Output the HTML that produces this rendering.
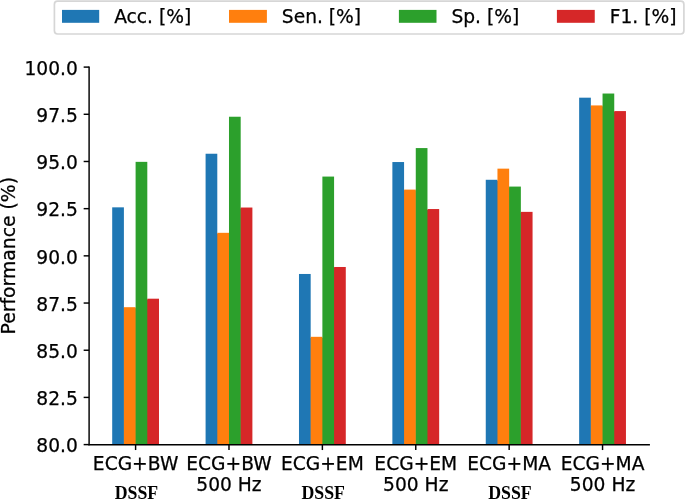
<!DOCTYPE html>
<html><head><meta charset="utf-8"><title>Performance chart</title>
<style>
html,body{margin:0;padding:0;background:#fff;}
body{width:685px;height:500px;overflow:hidden;}
svg{display:block;}
.t{font-family:"DejaVu Sans","Liberation Sans",sans-serif;font-size:18.67px;fill:#000;stroke:#000;stroke-width:0.25px;}
.b{font-family:"Liberation Serif","Times New Roman",serif;font-weight:bold;font-size:17.8px;fill:#000;}
</style></head><body>
<svg width="685" height="500" viewBox="0 0 685 500">
<rect x="0" y="0" width="685" height="500" fill="#fff"/>
<rect x="112.2" y="207.34" width="11.7" height="237.26" fill="#1f77b4"/>
<rect x="123.4" y="308.19" width="1.5" height="136.41" fill="#1f77b4"/>
<rect x="123.9" y="307.19" width="11.7" height="137.41" fill="#ff7f0e"/>
<rect x="135.1" y="308.19" width="1.5" height="136.41" fill="#ff7f0e"/>
<rect x="135.6" y="161.85" width="11.7" height="282.75" fill="#2ca02c"/>
<rect x="146.8" y="299.7" width="1.5" height="144.9" fill="#2ca02c"/>
<rect x="147.3" y="298.7" width="11.7" height="145.9" fill="#d62728"/>
<rect x="205.59" y="153.74" width="11.7" height="290.86" fill="#1f77b4"/>
<rect x="216.79" y="233.82" width="1.5" height="210.78" fill="#1f77b4"/>
<rect x="217.29" y="232.82" width="11.7" height="211.78" fill="#ff7f0e"/>
<rect x="228.49" y="233.82" width="1.5" height="210.78" fill="#ff7f0e"/>
<rect x="228.99" y="116.74" width="11.7" height="327.86" fill="#2ca02c"/>
<rect x="240.19" y="208.53" width="1.5" height="236.07" fill="#2ca02c"/>
<rect x="240.69" y="207.53" width="11.7" height="237.07" fill="#d62728"/>
<rect x="298.98" y="273.97" width="11.7" height="170.63" fill="#1f77b4"/>
<rect x="310.18" y="337.82" width="1.5" height="106.78" fill="#1f77b4"/>
<rect x="310.68" y="336.82" width="11.7" height="107.78" fill="#ff7f0e"/>
<rect x="321.88" y="337.82" width="1.5" height="106.78" fill="#ff7f0e"/>
<rect x="322.38" y="176.57" width="11.7" height="268.03" fill="#2ca02c"/>
<rect x="333.58" y="267.99" width="1.5" height="176.61" fill="#2ca02c"/>
<rect x="334.08" y="266.99" width="11.7" height="177.61" fill="#d62728"/>
<rect x="392.37" y="162.04" width="11.7" height="282.56" fill="#1f77b4"/>
<rect x="403.57" y="190.6" width="1.5" height="254" fill="#1f77b4"/>
<rect x="404.07" y="189.6" width="11.7" height="255" fill="#ff7f0e"/>
<rect x="415.27" y="190.6" width="1.5" height="254" fill="#ff7f0e"/>
<rect x="415.77" y="148.07" width="11.7" height="296.53" fill="#2ca02c"/>
<rect x="426.97" y="210.04" width="1.5" height="234.56" fill="#2ca02c"/>
<rect x="427.47" y="209.04" width="11.7" height="235.56" fill="#d62728"/>
<rect x="485.76" y="179.78" width="11.7" height="264.82" fill="#1f77b4"/>
<rect x="496.96" y="180.78" width="1.5" height="263.82" fill="#1f77b4"/>
<rect x="497.46" y="168.65" width="11.7" height="275.95" fill="#ff7f0e"/>
<rect x="508.66" y="187.58" width="1.5" height="257.02" fill="#ff7f0e"/>
<rect x="509.16" y="186.58" width="11.7" height="258.02" fill="#2ca02c"/>
<rect x="520.36" y="212.87" width="1.5" height="231.73" fill="#2ca02c"/>
<rect x="520.86" y="211.87" width="11.7" height="232.73" fill="#d62728"/>
<rect x="579.15" y="97.68" width="11.7" height="346.92" fill="#1f77b4"/>
<rect x="590.35" y="106.42" width="1.5" height="338.18" fill="#1f77b4"/>
<rect x="590.85" y="105.42" width="11.7" height="339.18" fill="#ff7f0e"/>
<rect x="602.05" y="106.42" width="1.5" height="338.18" fill="#ff7f0e"/>
<rect x="602.55" y="93.53" width="11.7" height="351.07" fill="#2ca02c"/>
<rect x="613.75" y="112.08" width="1.5" height="332.52" fill="#2ca02c"/>
<rect x="614.25" y="111.08" width="11.7" height="333.52" fill="#d62728"/>
<path d="M89.1 67.1V444.6" stroke="#000" stroke-width="1.45" fill="none" stroke-linecap="square"/>
<path d="M89.1 444.75H649.2" stroke="#000" stroke-width="1.45" fill="none" stroke-linecap="square"/>
<path d="M83.66 444.6H89.1" stroke="#000" stroke-width="1.45"/>
<text class="t" x="77.9" y="452.3" text-anchor="end">80.0</text>
<path d="M83.66 397.41H89.1" stroke="#000" stroke-width="1.45"/>
<text class="t" x="77.9" y="405.11" text-anchor="end">82.5</text>
<path d="M83.66 350.23H89.1" stroke="#000" stroke-width="1.45"/>
<text class="t" x="77.9" y="357.93" text-anchor="end">85.0</text>
<path d="M83.66 303.04H89.1" stroke="#000" stroke-width="1.45"/>
<text class="t" x="77.9" y="310.74" text-anchor="end">87.5</text>
<path d="M83.66 255.85H89.1" stroke="#000" stroke-width="1.45"/>
<text class="t" x="77.9" y="263.55" text-anchor="end">90.0</text>
<path d="M83.66 208.66H89.1" stroke="#000" stroke-width="1.45"/>
<text class="t" x="77.9" y="216.36" text-anchor="end">92.5</text>
<path d="M83.66 161.48H89.1" stroke="#000" stroke-width="1.45"/>
<text class="t" x="77.9" y="169.18" text-anchor="end">95.0</text>
<path d="M83.66 114.29H89.1" stroke="#000" stroke-width="1.45"/>
<text class="t" x="77.9" y="121.99" text-anchor="end">97.5</text>
<path d="M83.66 67.1H89.1" stroke="#000" stroke-width="1.45"/>
<text class="t" x="77.9" y="74.8" text-anchor="end">100.0</text>
<path d="M135.6 444.6V450.04" stroke="#000" stroke-width="1.45"/>
<text class="t" x="135.6" y="470.4" text-anchor="middle">ECG+BW</text>
<text class="b" x="136.4" y="499.4" text-anchor="middle">DSSF</text>
<path d="M228.99 444.6V450.04" stroke="#000" stroke-width="1.45"/>
<text class="t" x="228.99" y="470.4" text-anchor="middle">ECG+BW</text>
<text class="t" x="228.99" y="491.1" text-anchor="middle">500 Hz</text>
<path d="M322.38 444.6V450.04" stroke="#000" stroke-width="1.45"/>
<text class="t" x="322.38" y="470.4" text-anchor="middle">ECG+EM</text>
<text class="b" x="323.18" y="499.4" text-anchor="middle">DSSF</text>
<path d="M415.77 444.6V450.04" stroke="#000" stroke-width="1.45"/>
<text class="t" x="415.77" y="470.4" text-anchor="middle">ECG+EM</text>
<text class="t" x="415.77" y="491.1" text-anchor="middle">500 Hz</text>
<path d="M509.16 444.6V450.04" stroke="#000" stroke-width="1.45"/>
<text class="t" x="509.16" y="470.4" text-anchor="middle">ECG+MA</text>
<text class="b" x="509.96" y="499.4" text-anchor="middle">DSSF</text>
<path d="M602.55 444.6V450.04" stroke="#000" stroke-width="1.45"/>
<text class="t" x="602.55" y="470.4" text-anchor="middle">ECG+MA</text>
<text class="t" x="602.55" y="491.1" text-anchor="middle">500 Hz</text>
<text class="t" style="font-size:18.8px" x="0" y="0" text-anchor="middle" transform="translate(14.7 255.75) rotate(-90)">Performance (%)</text>
<rect x="54.4" y="1.2" width="629.5" height="32.8" rx="3.2" ry="3.2" fill="#fff" fill-opacity="0.8" stroke="#d6d6d6" stroke-width="1.67"/>
<rect x="62" y="9.9" width="37.2" height="12.9" fill="#1f77b4"/>
<text class="t" x="114.14" y="23.3">Acc. [%]</text>
<rect x="229" y="9.9" width="37.9" height="12.9" fill="#ff7f0e"/>
<text class="t" x="281.84" y="23.3">Sen. [%]</text>
<rect x="398.9" y="9.9" width="37.6" height="12.9" fill="#2ca02c"/>
<text class="t" x="451.44" y="23.3">Sp. [%]</text>
<rect x="556.9" y="9.9" width="37.85" height="12.9" fill="#d62728"/>
<text class="t" x="609.69" y="23.3">F1. [%]</text>
</svg>
</body></html>
